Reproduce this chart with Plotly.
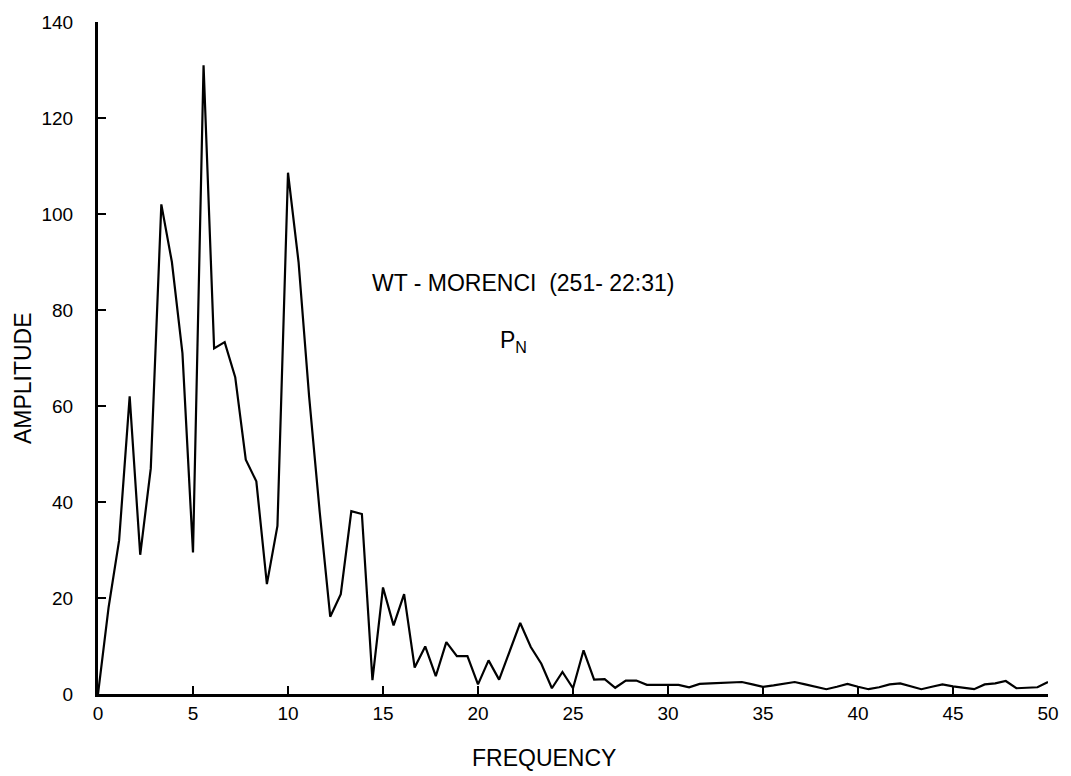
import plotly.graph_objects as go

# Frequency samples: 91 points, step 5/9 from 0 to 50
n_points = 91
freq_step = 50 / 90
frequency = [i * freq_step for i in range(n_points)]

amplitude = [
    0, 18, 32, 62, 29, 47, 102, 90, 71, 29.5,
    131, 72, 73.3, 66, 48.8, 44.3, 22.9, 35, 108.6, 90,
    62, 38, 16.1, 20.8, 38.1, 37.5, 2.9, 22.2, 14.3, 20.8,
    5.5, 9.9, 3.7, 10.8, 7.9, 7.9, 2.0, 7.0, 3.0, 9.0,
    14.8, 9.8, 6.3, 1.2, 4.6, 1.2, 9.1, 3.0, 3.1, 1.3,
    2.8, 2.8, 1.9, 1.9, 1.9, 1.9, 1.4, 2.1, 2.2, 2.3,
    2.4, 2.5, 2.0, 1.5, 1.8, 2.2, 2.5, 2.0, 1.5, 1.0,
    1.5, 2.1, 1.5, 1.0, 1.4, 2.0, 2.2, 1.6, 1.0, 1.5,
    2.0, 1.6, 1.3, 1.0, 2.0, 2.2, 2.7, 1.2, 1.3, 1.4,
    2.5,
]

x_ticks = [0, 5, 10, 15, 20, 25, 30, 35, 40, 45, 50]
y_ticks = [0, 20, 40, 60, 80, 100, 120, 140]

FONT = "Liberation Sans, Arial, sans-serif"

fig = go.Figure()
fig.add_trace(go.Scatter(
    x=frequency, y=amplitude, mode="lines",
    line=dict(color="black", width=2.2),
    showlegend=False, hoverinfo="skip",
))

fig.update_layout(
    width=1071, height=776,
    margin=dict(l=98, r=13, t=18, b=82),
    paper_bgcolor="white", plot_bgcolor="white",
    font=dict(family=FONT, color="black", size=19),
    xaxis=dict(
        range=[0, 50], tickvals=x_ticks, ticktext=[str(v) for v in x_ticks],
        showgrid=False, zeroline=False, showline=True, linecolor="black", linewidth=3,
        ticks="inside", ticklen=8, tickwidth=2, tickcolor="black",
        tickfont=dict(size=19, family=FONT, color="black"),
    ),
    yaxis=dict(
        range=[0, 140], tickvals=y_ticks, ticktext=[str(v) for v in y_ticks],
        showgrid=False, zeroline=False, showline=True, linecolor="black", linewidth=3,
        ticks="inside", ticklen=8, tickwidth=2, tickcolor="black",
        tickfont=dict(size=19, family=FONT, color="black"),
        ticklabelstandoff=18,
    ),
    annotations=[
        dict(text="AMPLITUDE", xref="paper", yref="paper", x=-0.079, y=0.47,
             textangle=-90, showarrow=False, font=dict(size=23, family=FONT, color="black"),
             xanchor="center", yanchor="middle"),
        dict(text="FREQUENCY", xref="paper", yref="paper", x=0.469, y=-0.095,
             showarrow=False, font=dict(size=23, family=FONT, color="black"),
             xanchor="center", yanchor="middle"),
        dict(text="WT - MORENCI  (251- 22:31)", xref="paper", yref="paper", x=0.447, y=0.612,
             showarrow=False, font=dict(size=23, family=FONT, color="black"),
             xanchor="center", yanchor="middle"),
        dict(text="P<sub>N</sub>", xref="paper", yref="paper", x=0.4375, y=0.524,
             showarrow=False, font=dict(size=23, family=FONT, color="black"),
             xanchor="center", yanchor="middle"),
    ],
)

fig.write_html("out.html")
